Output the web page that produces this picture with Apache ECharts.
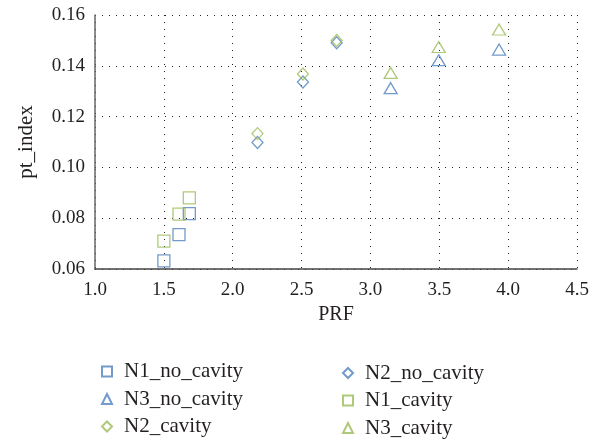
<!DOCTYPE html>
<html><head><meta charset="utf-8">
<script src="https://cdn.jsdelivr.net/npm/echarts@6/dist/echarts.min.js"></script>
<style>html,body{margin:0;padding:0;background:#fff}#c{width:592px;height:443px}</style>
</head><body><div id="c"></div>
<script>
const xTicks = [1.0, 1.5, 2.0, 2.5, 3.0, 3.5, 4.0, 4.5];
const yTicks = [0.06, 0.08, 0.10, 0.12, 0.14, 0.16];
const N1_no_cavity = [[1.50, 0.0632], [1.61, 0.0735], [1.685, 0.0818]];
const N1_cavity = [[1.50, 0.0710], [1.61, 0.0816], [1.685, 0.0880]];
const N2_no_cavity = [[2.18, 0.1098], [2.51, 0.1336], [2.755, 0.1491]];
const N2_cavity = [[2.18, 0.1133], [2.51, 0.1368], [2.755, 0.1500]];
const N3_no_cavity = [[3.147, 0.1312], [3.496, 0.1422], [3.934, 0.1464]];
const N3_cavity = [[3.147, 0.1372], [3.496, 0.1474], [3.934, 0.1543]];

const BLUE = '#4f81bd', GREEN = '#9bbb59';
const FONT = 'Liberation Serif';
const TXT = '#231f20';
function mk(name, data, symbol, color, size) {
  return {
    name, type: 'scatter', data, symbol, symbolSize: size,
    itemStyle: { color: 'rgba(255,255,255,0)', borderColor: color, borderWidth: 1.3 },
    emphasis: { disabled: true }
  };
}
const series = [
  mk('N1_no_cavity', N1_no_cavity, 'rect', BLUE, 12),
  mk('N2_no_cavity', N2_no_cavity, 'diamond', BLUE, [11, 12]),
  mk('N3_no_cavity', N3_no_cavity, 'triangle', BLUE, [13, 11]),
  mk('N1_cavity', N1_cavity, 'rect', GREEN, 12),
  mk('N2_cavity', N2_cavity, 'diamond', GREEN, [11, 12]),
  mk('N3_cavity', N3_cavity, 'triangle', GREEN, [13, 11])
];
function legendAt(left, top, names) {
  return {
    orient: 'vertical', left, top, padding: 0,
    itemGap: 6.5, itemWidth: 10, itemHeight: 10,
    textStyle: { fontFamily: FONT, fontSize: 21, lineHeight: 21, color: TXT, padding: [0, 0, 0, 7] },
    data: names
  };
}
const chart = echarts.init(document.getElementById('c'), null, { renderer: 'canvas' });
chart.setOption({
  animation: false,
  textStyle: { fontFamily: FONT },
  grid: { left: 95, right: 15, top: 15, bottom: 174, containLabel: false },
  xAxis: {
    type: 'value', min: 1.0, max: 4.5, interval: 0.5,
    name: 'PRF', nameLocation: 'middle', nameGap: 28,
    nameTextStyle: { fontFamily: FONT, fontSize: 20, color: TXT },
    axisLine: { lineStyle: { color: '#444', width: 1.5 } },
    axisTick: { show: false },
    axisLabel: { margin: 12, fontFamily: FONT, fontSize: 19, color: TXT, formatter: v => v.toFixed(1) },
    splitLine: { show: true, lineStyle: { color: '#222', type: [1, 6], width: 1 } }
  },
  yAxis: {
    type: 'value', min: 0.06, max: 0.16, interval: 0.02,
    name: 'pt_index', nameLocation: 'middle', nameGap: 58,
    nameTextStyle: { fontFamily: FONT, fontSize: 21, color: TXT },
    axisLine: { show: true, lineStyle: { color: '#666', width: 1.5 } },
    axisTick: { show: false },
    axisLabel: { margin: 10, fontFamily: FONT, fontSize: 19, color: TXT, formatter: v => v.toFixed(2) },
    splitLine: { show: true, lineStyle: { color: '#222', type: [1, 6], width: 1 } }
  },
  legend: [
    legendAt(101, 361, ['N1_no_cavity', 'N3_no_cavity', 'N2_cavity']),
    legendAt(342, 362.5, ['N2_no_cavity', 'N1_cavity', 'N3_cavity'])
  ],
  series
});
</script></body></html>
